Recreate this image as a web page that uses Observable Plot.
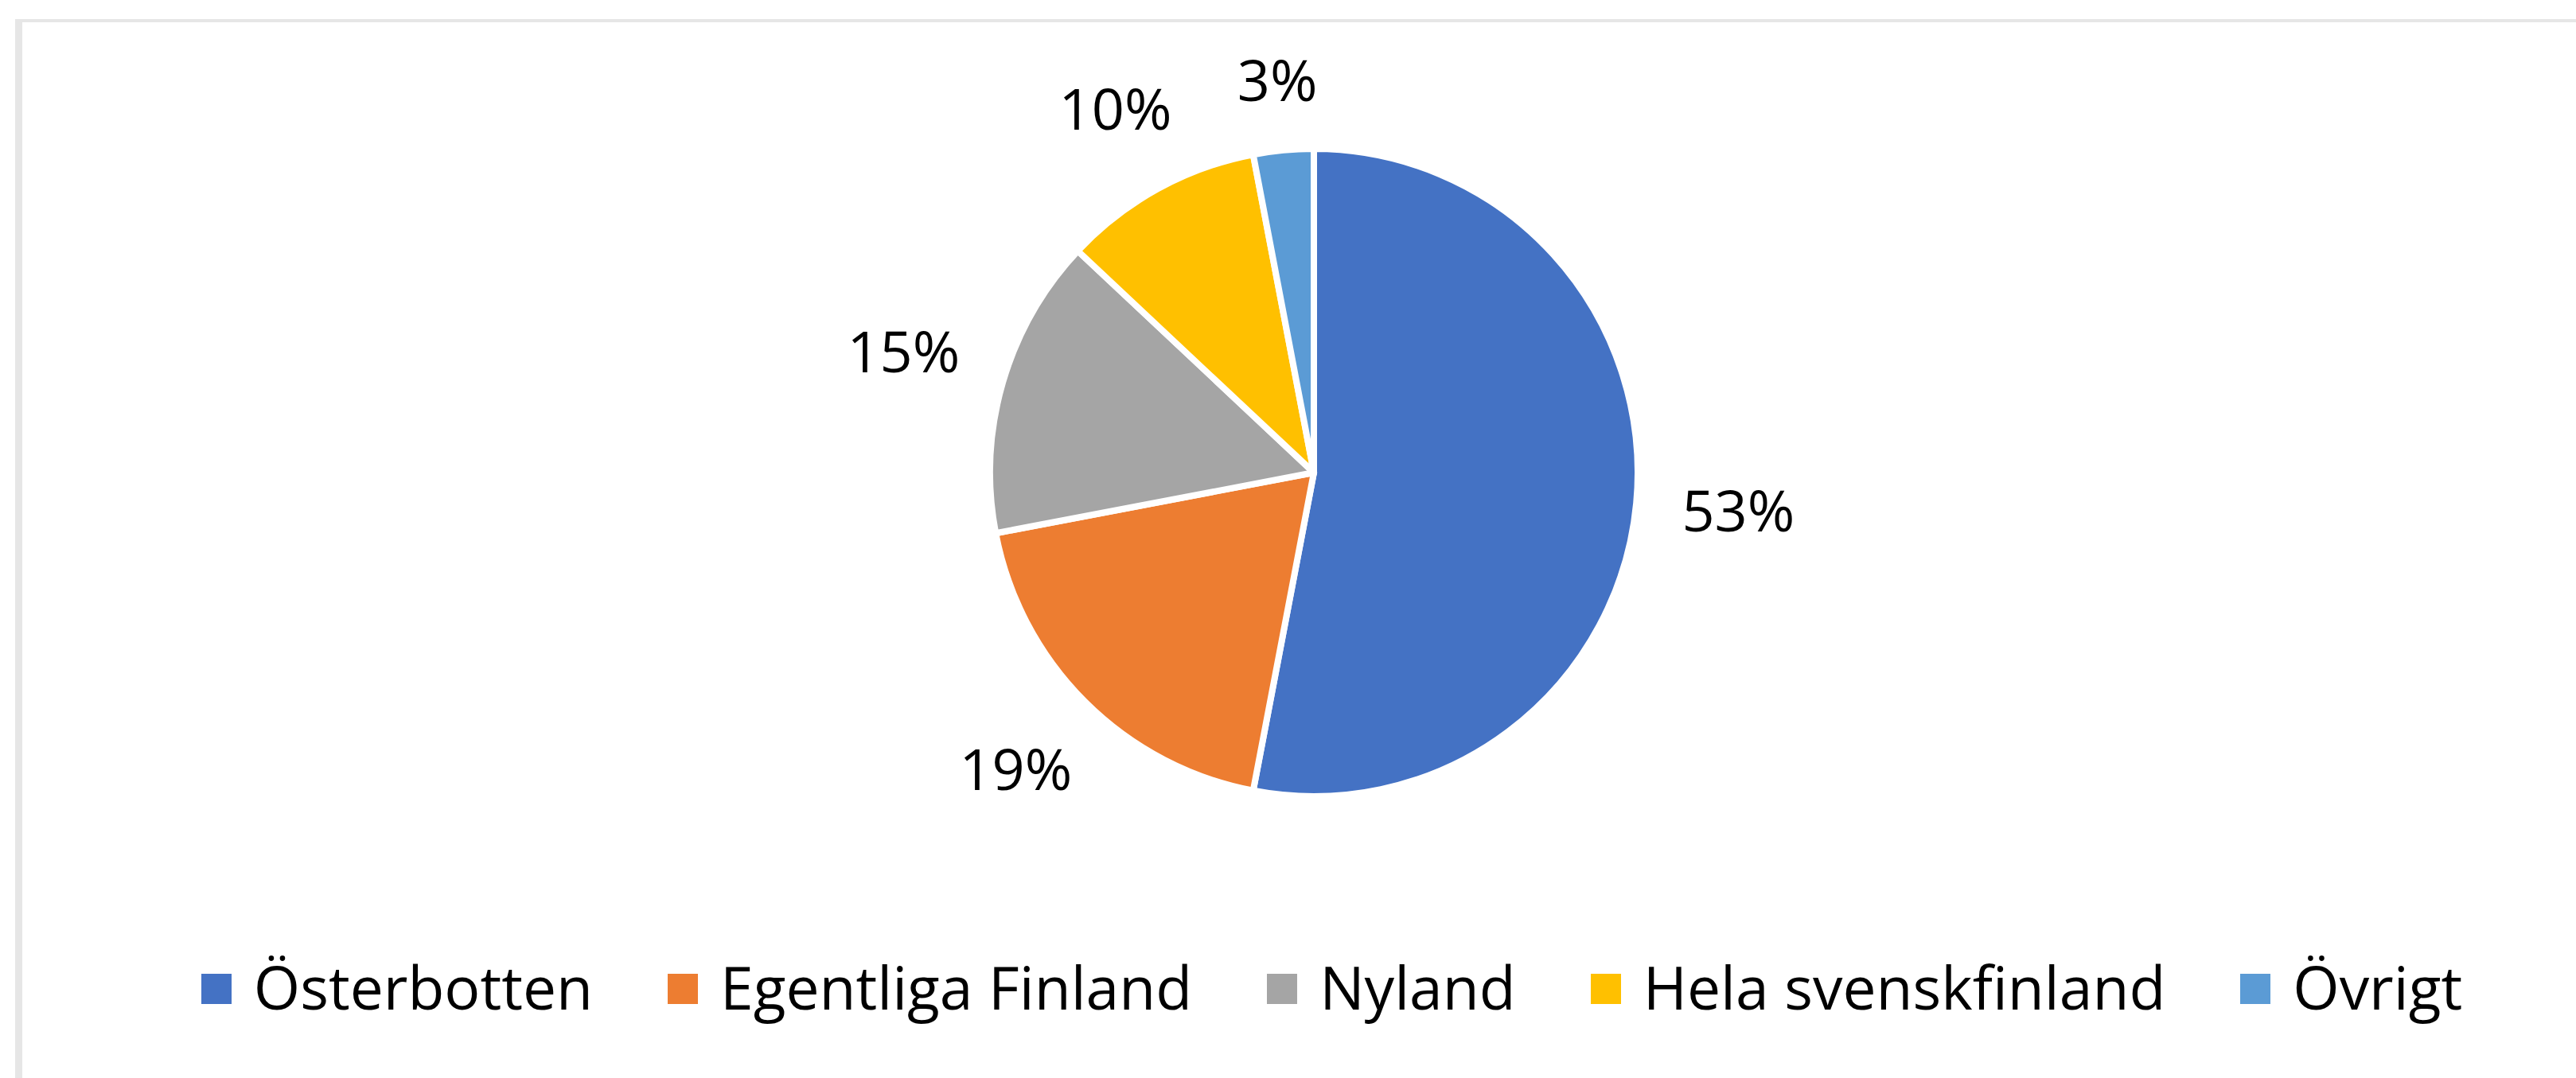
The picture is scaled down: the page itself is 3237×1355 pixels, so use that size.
<!DOCTYPE html>
<html>
<head>
<meta charset="utf-8">
<script src="https://cdn.jsdelivr.net/npm/d3@7"></script>
<script src="https://cdn.jsdelivr.net/npm/@observablehq/plot@0.6"></script>
<style>
  html, body { margin: 0; padding: 0; background: #fff; }
  #wrap { position: relative; width: 3237px; height: 1355px; overflow: hidden; font-family: "Open Sans", sans-serif; }
  #frame { position: absolute; left: 19px; top: 24px; right: -20px; bottom: -20px;
           border-left: 9px solid #e6e6e6; border-top: 4px solid #e6e6e6; pointer-events: none; }
  #legend { display: flex; justify-content: center; align-items: center; gap: 94px;
            padding-left: 110px; box-sizing: border-box; width: 3237px; height: 100px; }
  .item { display: flex; align-items: center; gap: 28px; font-size: 75px; line-height: 100px; color: #000; white-space: nowrap; }
  .sw { width: 38px; height: 38px; margin-top: 6px; flex: none; }
</style>
</head>
<body>
<div id="wrap"><div id="chart"></div><div id="legend"></div><div id="frame"></div></div>
<script>
// ---- data ----
const categories = ["Österbotten", "Egentliga Finland", "Nyland", "Hela svenskfinland", "Övrigt"];
const shares = [53, 19, 15, 10, 3];
const colors = ["#4472C4", "#ED7D31", "#A5A5A5", "#FFC000", "#5B9BD5"];

// ---- layout constants ----
const W = 3237, H = 1190;
const CX = 1651, CY = 594, R = 407;
const LABEL_SIZE = 72, GAP = 55;

const rows = categories.map((c, i) => ({category: c, share: shares[i], color: colors[i]}));
const total = d3.sum(shares);
const arcs = d3.pie().sort(null).value(d => d.share)(rows);

// label positions in data units (radius = 1), placed just outside the slice
const labels = arcs.map(a => {
  const mid = (a.startAngle + a.endAngle) / 2;
  const text = Math.round(a.data.share / total * 100) + "%";
  const digits = text.length - 1;
  const hw = 0.5 * LABEL_SIZE * (0.572 * digits + 0.83);
  const hh = 0.36 * LABEL_SIZE;
  const s = Math.sin(mid), c = Math.cos(mid);
  const dist = 1 + (GAP + Math.abs(s) * hw + Math.abs(c) * hh) / R;
  return {x: dist * s, y: dist * c, text};
});

function pieMark(index, scales) {
  const {x, y} = scales;
  const cx = x(0), cy = y(0), r = x(1) - x(0);
  const arc = d3.arc().innerRadius(0).outerRadius(r);
  const g = d3.create("svg:g").attr("transform", `translate(${cx},${cy})`);
  g.selectAll("path").data(arcs).join("path")
    .attr("d", arc)
    .attr("fill", d => d.data.color)
    .attr("stroke", "#fff")
    .attr("stroke-width", 8)
    .attr("stroke-linejoin", "round");
  return g.node();
}

const chart = Plot.plot({
  width: W,
  height: H,
  margin: 0,
  x: {domain: [-1, 1], range: [CX - R, CX + R], axis: null},
  y: {domain: [-1, 1], range: [CY + R, CY - R], axis: null},
  style: {fontFamily: "'Open Sans', sans-serif", background: "transparent", overflow: "visible"},
  marks: [
    pieMark,
    Plot.text(labels, {x: "x", y: "y", text: "text", fontSize: LABEL_SIZE, fill: "#000", textAnchor: "middle"})
  ]
});
document.getElementById("chart").appendChild(chart);

// ---- legend ----
const legend = d3.select("#legend");
rows.forEach(r => {
  const it = legend.append("div").attr("class", "item");
  it.append("div").attr("class", "sw").style("background", r.color);
  it.append("span").text(r.category);
});
</script>
</body>
</html>
